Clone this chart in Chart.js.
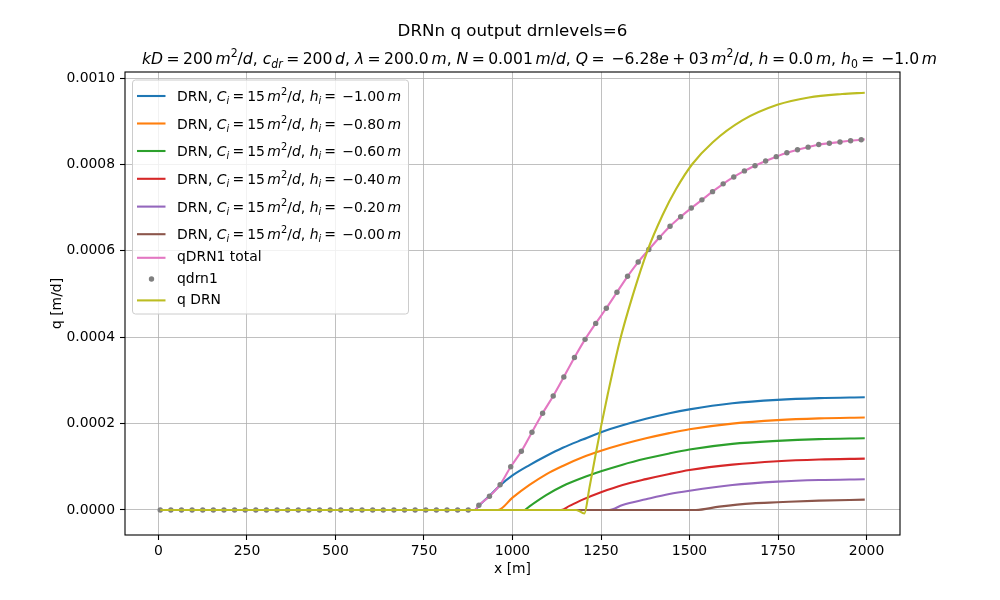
<!DOCTYPE html>
<html>
<head>
<meta charset="utf-8">
<script src="https://cdn.jsdelivr.net/npm/chart.js@4.4.1/dist/chart.umd.min.js"></script>
<style>body{margin:0;background:#fff}</style>
</head>
<body>
<canvas id="c" width="1000" height="600"></canvas>
<script>
// tick values
const xTicks = [0, 250, 500, 750, 1000, 1250, 1500, 1750, 2000];
const yTicks = [0, 0.0002, 0.0004, 0.0006, 0.0008, 0.0010];

// drain levels used in the legend
const drnHeads = ['\u22121.00', '\u22120.80', '\u22120.60', '\u22120.40', '\u22120.20', '\u22120.00'];
const drnColors = ['#1f77b4', '#ff7f0e', '#2ca02c', '#d62728', '#9467bd', '#8c564b'];

// DRN level curves
const blueX = [5, 893, 905, 935, 965, 1000, 1048, 1095, 1142, 1198, 1250, 1311, 1377, 1443, 1500, 1621, 1748, 1866, 1995];
const blueY = [0, 0, 0.0000098, 0.000033, 0.000057, 0.00008, 0.000104, 0.000125, 0.000144, 0.000163, 0.00018, 0.000196, 0.000211, 0.000224, 0.000233, 0.000247, 0.000255, 0.000259, 0.000261];
const orangeX = [5, 959, 1000, 1048, 1095, 1142, 1198, 1250, 1311, 1377, 1443, 1500, 1621, 1748, 1866, 1995];
const orangeY = [0, 0, 0.0000285, 0.0000579, 0.0000826, 0.000102, 0.000122, 0.000137, 0.000152, 0.000166, 0.000178, 0.000187, 0.0002, 0.000208, 0.000212, 0.000214];
const greenX = [5, 1034, 1048, 1095, 1142, 1198, 1250, 1311, 1377, 1443, 1500, 1621, 1748, 1866, 1995];
const greenY = [0, 0, 0.0000085, 0.0000345, 0.0000555, 0.0000745, 0.0000895, 0.000105, 0.000119, 0.000131, 0.00014, 0.000153, 0.00016, 0.000164, 0.000166];
const redX = [5, 1137, 1161, 1198, 1250, 1311, 1377, 1443, 1500, 1621, 1748, 1866, 1995];
const redY = [0, 0, 0.0000095, 0.000024, 0.000041, 0.0000579, 0.0000715, 0.0000835, 0.0000925, 0.000105, 0.000113, 0.000117, 0.000119];
const purpleX = [5, 1273, 1311, 1377, 1443, 1500, 1621, 1748, 1866, 1995];
const purpleY = [0, 0, 0.0000116, 0.0000248, 0.000037, 0.0000447, 0.0000579, 0.0000656, 0.0000694, 0.0000711];
const brownX = [5, 1518, 1584, 1678, 1748, 1866, 1995];
const brownY = [0, 0, 0.0000077, 0.0000154, 0.0000178, 0.0000216, 0.0000239];

// qDRN1 total line
const totalX = [5, 893, 905, 935, 965, 995, 1025, 1055, 1085, 1115, 1145, 1175, 1205, 1235, 1265, 1295, 1325, 1355, 1385, 1415, 1445, 1475, 1505, 1535, 1565, 1595, 1625, 1655, 1685, 1715, 1745, 1775, 1805, 1835, 1865, 1895, 1925, 1955, 1985, 1995];
const totalY = [0, 0, 0.0000109, 0.0000317, 0.0000586, 0.0001, 0.000136, 0.00018, 0.000224, 0.000264, 0.000308, 0.000353, 0.000395, 0.000432, 0.000467, 0.000504, 0.000541, 0.000574, 0.000603, 0.000631, 0.000657, 0.000679, 0.000699, 0.000718, 0.000737, 0.000755, 0.000771, 0.000785, 0.000797, 0.000808, 0.000818, 0.000827, 0.000834, 0.00084, 0.000846, 0.000849, 0.000852, 0.000855, 0.000857, 0.000858];

// qdrn1 markers
const dotX = [5, 35, 65, 95, 125, 155, 185, 215, 245, 275, 305, 335, 365, 395, 425, 455, 485, 515, 545, 575, 605, 635, 665, 695, 725, 755, 785, 815, 845, 875,
  905, 935, 965, 995, 1025, 1055, 1085, 1115, 1145, 1175, 1205, 1235, 1265, 1295, 1325, 1355, 1385, 1415, 1445, 1475, 1505, 1535, 1565, 1595, 1625, 1655, 1685, 1715, 1745, 1775, 1805, 1835, 1865, 1895, 1925, 1955, 1985];
const dotY = [0, 0, 0, 0, 0, 0, 0, 0, 0, 0, 0, 0, 0, 0, 0, 0, 0, 0, 0, 0, 0, 0, 0, 0, 0, 0, 0, 0, 0, 0,
  0.0000109, 0.0000317, 0.0000586, 0.0001, 0.000136, 0.00018, 0.000224, 0.000264, 0.000308, 0.000353, 0.000395, 0.000432, 0.000467, 0.000504, 0.000541, 0.000574, 0.000603, 0.000631, 0.000657, 0.000679, 0.000699, 0.000718, 0.000737, 0.000755, 0.000771, 0.000785, 0.000797, 0.000808, 0.000818, 0.000827, 0.000834, 0.00084, 0.000846, 0.000849, 0.000852, 0.000855, 0.000857];

// q DRN
const qdrnX = [5, 1180, 1203, 1217, 1234, 1250, 1269, 1302, 1339, 1381, 1424, 1462, 1508, 1565, 1649, 1748, 1837, 1931, 1995];
const qdrnY = [0, 0, -0.000008, 0.00005, 0.000125, 0.000193, 0.000268, 0.000388, 0.000495, 0.0006, 0.000683, 0.000743, 0.000801, 0.000851, 0.000902, 0.000938, 0.000955, 0.000963, 0.000966];

const zip = (xs, ys) => xs.map((x, i) => ({ x, y: ys[i] }));
const FONT = '"DejaVu Sans", sans-serif';

function lineSet(xs, ys, color, order) {
  return { data: zip(xs, ys), showLine: true, borderColor: color, borderWidth: 2.1, pointRadius: 0,
    cubicInterpolationMode: 'monotone', fill: false, order };
}

const drnSeries = [[blueX, blueY], [orangeX, orangeY], [greenX, greenY], [redX, redY], [purpleX, purpleY], [brownX, brownY]];
const datasets = drnSeries.map((s, i) => lineSet(s[0], s[1], drnColors[i], 10 - i));
datasets.push(lineSet(totalX, totalY, '#e377c2', 2));
datasets.push({ data: zip(dotX, dotY), showLine: false, pointRadius: 2.7, pointBackgroundColor: '#7f7f7f', pointBorderWidth: 0, order: 1 });
datasets.push(lineSet(qdrnX, qdrnY, '#bcbd22', 0));

// mixed roman / italic / sub / sup text; 'g' runs are gaps in em
function drawRuns(ctx, runs, x, cy, size, align, fitW) {
  const fontOf = k => {
    const small = k.startsWith('sub') || k.startsWith('sup');
    const ital = k === 'i' || k.endsWith('I');
    return (ital ? 'italic ' : '') + (small ? size * 0.7 : size) + 'px ' + FONT;
  };
  const widthOf = r => {
    if (r[1] === 'g') return r[2] * size;
    ctx.font = fontOf(r[1]);
    return ctx.measureText(r[0]).width;
  };
  let w = 0;
  runs.forEach(r => { w += widthOf(r); });
  const sx = fitW ? fitW / w : 1;
  const x0 = align === 'center' ? x - w * sx / 2 : x;
  const base = cy + size * 0.36;
  ctx.save();
  ctx.translate(x0, 0);
  ctx.scale(sx, 1);
  ctx.textAlign = 'left';
  ctx.textBaseline = 'alphabetic';
  let cx = 0;
  runs.forEach(r => {
    if (r[1] !== 'g') {
      ctx.font = fontOf(r[1]);
      let dy = 0;
      if (r[1].startsWith('sup')) dy = -size * 0.42;
      if (r[1].startsWith('sub')) dy = size * 0.22;
      ctx.fillText(r[0], cx, base + dy);
    }
    cx += widthOf(r);
  });
  ctx.restore();
}

const EQ = [['', 'g', 0.22], ['=', 'r'], ['', 'g', 0.22]];
const TH = ['', 'g', 0.17];
const subtitleRuns = [
  ['kD', 'i'], ...EQ, ['200', 'r'], TH, ['m', 'i'], ['2', 'sup'], ['/', 'r'], ['d', 'i'], [', ', 'r'],
  ['c', 'i'], ['dr', 'subI'], ...EQ, ['200', 'r'], TH, ['d', 'i'], [', ', 'r'],
  ['\u03bb', 'i'], ...EQ, ['200.0', 'r'], TH, ['m', 'i'], [', ', 'r'],
  ['N', 'i'], ...EQ, ['0.001', 'r'], TH, ['m', 'i'], ['/', 'r'], ['d', 'i'], [', ', 'r'],
  ['Q', 'i'], ...EQ, ['', 'g', 0.22], ['\u2212', 'r'], ['6.28', 'r'], ['e', 'i'], ['', 'g', 0.22], ['+', 'r'], ['', 'g', 0.22], ['03', 'r'], TH, ['m', 'i'], ['2', 'sup'], ['/', 'r'], ['d', 'i'], [', ', 'r'],
  ['h', 'i'], ...EQ, ['0.0', 'r'], TH, ['m', 'i'], [', ', 'r'],
  ['h', 'i'], ['0', 'sub'], ...EQ, ['', 'g', 0.22], ['\u2212', 'r'], ['1.0', 'r'], TH, ['m', 'i']
];

function legendRuns(h) {
  return [['DRN, ', 'r'], ['C', 'i'], ['i', 'subI'], ...EQ, ['15', 'r'], TH, ['m', 'i'], ['2', 'sup'], ['/', 'r'], ['d', 'i'], [', ', 'r'],
    ['h', 'i'], ['i', 'subI'], ...EQ, ['', 'g', 0.22], ['\u2212', 'r'], [h.slice(1), 'r'], TH, ['m', 'i']];
}

const deco = {
  id: 'deco',
  afterDraw(chart) {
    const ctx = chart.ctx, a = chart.chartArea;
    ctx.save();
    ctx.strokeStyle = '#000';
    ctx.lineWidth = 1.1;
    ctx.strokeRect(a.left, a.top, a.right - a.left, a.bottom - a.top);
    ctx.fillStyle = '#000';
    const mid = (a.left + a.right) / 2;
    ctx.font = '16.7px ' + FONT;
    ctx.textAlign = 'center';
    ctx.textBaseline = 'middle';
    ctx.fillText('DRNn q output drnlevels=6', mid, 32);
    drawRuns(ctx, subtitleRuns, 539.5, 58, 16.7, 'center', 795);
    // axis labels
    ctx.font = '13.9px ' + FONT;
    ctx.textAlign = 'center';
    ctx.textBaseline = 'middle';
    ctx.fillText('x [m]', mid, 569);
    ctx.save();
    ctx.translate(57, (a.top + a.bottom) / 2);
    ctx.rotate(-Math.PI / 2);
    ctx.fillText('q [m/d]', 0, 0);
    ctx.restore();
    // legend
    const L = 132.5, T = 80, R = 408.5, B = 314;
    ctx.fillStyle = 'rgba(255,255,255,0.8)';
    ctx.strokeStyle = '#cccccc';
    ctx.lineWidth = 1;
    ctx.beginPath();
    ctx.roundRect(L, T, R - L, B - T, 3);
    ctx.fill();
    ctx.stroke();
    const rows = [96, 123.5, 151, 178.8, 206.6, 234.2];
    drnHeads.forEach((h, i) => {
      ctx.strokeStyle = drnColors[i];
      ctx.lineWidth = 2.1;
      ctx.beginPath(); ctx.moveTo(137, rows[i]); ctx.lineTo(165.5, rows[i]); ctx.stroke();
      ctx.fillStyle = '#000';
      drawRuns(ctx, legendRuns(h), 177, rows[i], 13.9, 'left', 224);
    });
    ctx.strokeStyle = '#e377c2';
    ctx.beginPath(); ctx.moveTo(137, 257.8); ctx.lineTo(165.5, 257.8); ctx.stroke();
    ctx.fillStyle = '#7f7f7f';
    ctx.beginPath(); ctx.arc(151.5, 279, 2.7, 0, Math.PI * 2); ctx.fill();
    ctx.strokeStyle = '#bcbd22';
    ctx.beginPath(); ctx.moveTo(137, 300.4); ctx.lineTo(165.5, 300.4); ctx.stroke();
    ctx.fillStyle = '#000';
    ctx.font = '13.9px ' + FONT;
    ctx.textAlign = 'left';
    ctx.textBaseline = 'middle';
    ctx.fillText('qDRN1 total', 177, 257.8);
    ctx.fillText('qdrn1', 177, 279);
    ctx.fillText('q DRN', 177, 300.4);
    ctx.restore();
  }
};

const gridOpts = { color: '#b0b0b0', lineWidth: 0.8, tickColor: '#000', tickLength: 5, tickWidth: 1.1 };
const tickFont = { family: FONT, size: 13.9 };

new Chart(document.getElementById('c'), {
  type: 'scatter',
  data: { datasets },
  options: {
    responsive: false,
    animation: false,
    devicePixelRatio: 1,
    layout: { padding: { top: 72, right: 100, left: 0, bottom: 0 } },
    plugins: { legend: { display: false }, tooltip: { enabled: false } },
    scales: {
      x: {
        type: 'linear', min: -94.5, max: 2094.5,
        afterBuildTicks: s => { s.ticks = xTicks.map(v => ({ value: v })); },
        afterFit: s => { s.height = 65; },
        ticks: { callback: v => String(v), font: tickFont, color: '#000', padding: 3, maxRotation: 0, autoSkip: false },
        grid: gridOpts,
        border: { display: false }
      },
      y: {
        type: 'linear', min: -0.0000579, max: 0.001014,
        afterBuildTicks: s => { s.ticks = yTicks.map(v => ({ value: v })); },
        afterFit: s => { s.width = 125; },
        ticks: { callback: v => v.toFixed(4), font: tickFont, color: '#000', padding: 5, autoSkip: false },
        grid: gridOpts,
        border: { display: false }
      }
    }
  },
  plugins: [deco]
});
</script>
</body>
</html>
